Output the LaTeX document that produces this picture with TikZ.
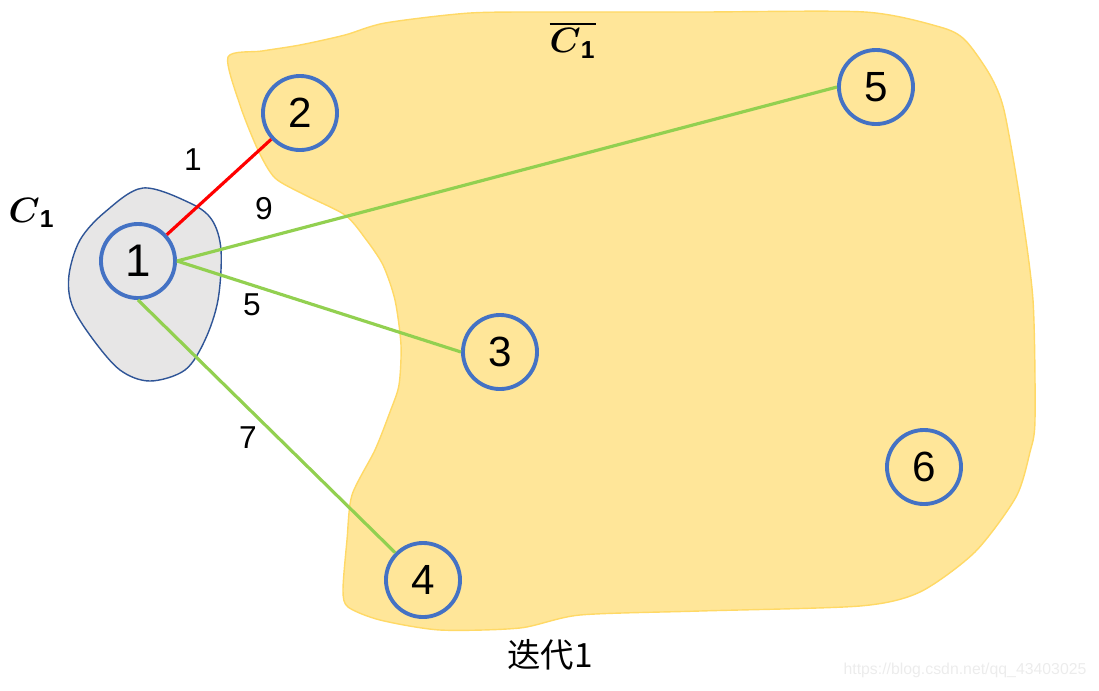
\documentclass[tikz,border=0pt]{standalone}
\usepackage{amsmath, amssymb}
\usepackage{fontspec}
\setmainfont{Liberation Sans}
\newfontfamily\cjk{Noto Sans CJK SC}
\usepackage{tikz}
\definecolor{nodeBlue}{RGB}{68, 114, 196}
\definecolor{setYellow}{RGB}{255, 230, 153}
\definecolor{setYellowLine}{RGB}{255, 217, 102}
\definecolor{setGray}{RGB}{231, 230, 230}
\definecolor{setGrayLine}{RGB}{47, 85, 151}
\definecolor{edgeGreen}{RGB}{146, 208, 80}
\definecolor{edgeRed}{RGB}{255, 0, 0}
\tikzset{
  vertex/.style={circle, draw=nodeBlue, line width=1.1pt, minimum size=0.74cm, inner sep=0pt, font=\fontsize{12}{14}\selectfont},
  weight/.style={font=\fontsize{9}{11}\selectfont},
  treeEdge/.style={edgeRed, line width=0.9pt},
  crossEdge/.style={edgeGreen, line width=0.9pt}
}

\begin{document}
\begin{tikzpicture}[x=0.01cm, y=-0.01cm]
        \useasboundingbox (0,0) rectangle (1099,690);
        % the set outside C1
        \draw[setYellowLine, fill=setYellow, line width=0.4pt] plot[smooth cycle, tension=0.45] coordinates {
          (228,57) (262,51) (300,45) (345,35) (385,23) (470,13) (560,12) (700,12) (865,12)
          (940,27) (965,40) (990,75) (1004,110) (1020,200) (1033,300) (1035,420)
          (1030,452) (1016,497) (975,552) (920,592) (860,606) (700,611) (580,615)
          (520,628) (440,630) (380,620) (348,607) (343,590) (347,540) (352,495)
          (375,450) (390,412) (399,385) (401,345) (395,300) (383,265) (365,238)
          (345,215) (305,195) (275,178) (258,150) (240,105)};
        % the set C1
        \draw[setGrayLine, fill=setGray, line width=0.4pt] plot[smooth cycle, tension=0.55] coordinates {
          (143,188) (190,203) (212,220) (221,250) (218,300) (205,340) (185,370)
          (150,381) (120,370) (92,338) (72,305) (69,275) (80,240) (105,212)};
        % vertices
        \node[vertex, font=\fontsize{13}{15}\selectfont] (n1) at (138,261) {1};
        \node[vertex] (n2) at (300,113) {2};
        \node[vertex] (n3) at (500,352) {3};
        \node[vertex] (n4) at (423,580) {4};
        \node[vertex] (n5) at (876,87) {5};
        \node[vertex] (n6) at (924,467) {6};
        % edges leaving C1
        \draw[treeEdge] (n1) -- (n2);
        \draw[crossEdge] (n1.east) -- (n5.west);
        \draw[crossEdge] (n1.east) -- (n3.west);
        \draw[crossEdge] (n1.south) -- (n4);
        \node[weight] (w12) at (193,160) {1};
        \node[weight] (w15) at (264,209) {9};
        \node[weight] (w13) at (252,305) {5};
        \node[weight] (w14) at (248,438) {7};
        % set names
        \node (lblC) at (32,213) {$\boldsymbol{C}_{\mathbf{1}}$};
        \node (lblCbar) at (573,40) {$\overline{\boldsymbol{C}_{\mathbf{1}}}$};
        \node[font=\cjk\fontsize{9.5}{11}\selectfont] (caption) at (550,655) {迭代1};
        \node[gray!15, font=\fontsize{4.5}{5.5}\selectfont] (mark) at (965,670) {https://blog.csdn.net/qq\_43403025};
      \end{tikzpicture}
\end{document}
